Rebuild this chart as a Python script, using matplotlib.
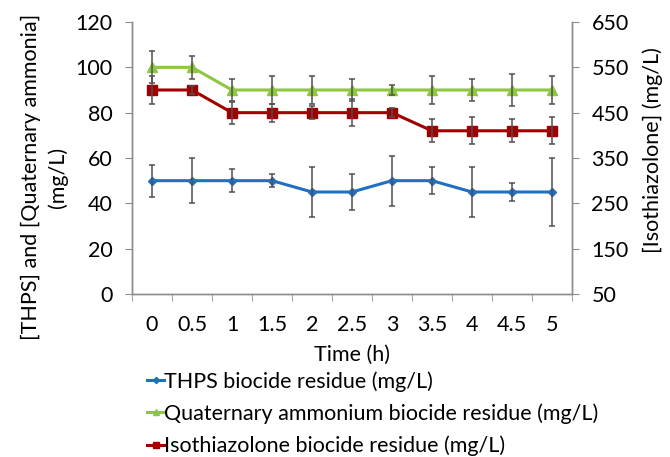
import numpy as np
import matplotlib
matplotlib.use('Agg')
import matplotlib.pyplot as plt

plt.rcParams['font.family'] = ['Lato', 'DejaVu Sans']

time_labels = ['0', '0.5', '1', '1.5', '2', '2.5', '3', '3.5', '4', '4.5', '5']

thps = [50, 50, 50, 50, 45, 45, 50, 50, 45, 45, 45]
thps_err = [7, 10, 5, 3, 11, 8, 11, 6, 11, 4, 15]

quat = [100, 100, 90, 90, 90, 90, 90, 90, 90, 90, 90]
quat_err = [7, 5, 5, 6, 6, 5, 2, 6, 5, 7, 6]

iso = [500, 500, 450, 450, 450, 450, 450, 410, 410, 410, 410]
iso_err = [30, 9, 24, 20, 15, 30, 10, 25, 30, 25, 30]

c_blue = '#1F6FC5'
c_green = '#8DC63F'
c_red = '#A00000'
c_err = '#505050'
c_axis = '#8C8C8C'
fs = 15.5

x = np.arange(len(time_labels))

fig = plt.figure(figsize=(6.7, 4.57), dpi=100)
ax1 = fig.add_axes([132 / 670, 1 - 294 / 457, 440 / 670, 272 / 457])
ax2 = ax1.twinx()

l1, = ax1.plot(x, thps, color=c_blue, lw=2.2, marker='D', ms=4.5, label='THPS biocide residue (mg/L)', zorder=3)
ax1.errorbar(x, thps, yerr=thps_err, fmt='none', ecolor=c_err, elinewidth=1.1, capsize=2.5, capthick=1.1, zorder=4)
l2, = ax1.plot(x, quat, color=c_green, lw=2.2, marker='^', ms=7, label='Quaternary ammonium biocide residue (mg/L)', zorder=3)
ax1.errorbar(x, quat, yerr=quat_err, fmt='none', ecolor=c_err, elinewidth=1.1, capsize=2.5, capthick=1.1, zorder=4)

l3, = ax2.plot(x, iso, color=c_red, lw=2.2, marker='s', ms=7, label='Isothiazolone biocide residue (mg/L)', zorder=3)
ax2.errorbar(x, iso, yerr=iso_err, fmt='none', ecolor=c_err, elinewidth=1.1, capsize=2.5, capthick=1.1, zorder=4)

ax1.set_xlim(-0.5, len(x) - 0.5)
ax1.set_ylim(0, 120)
ax1.set_yticks(range(0, 121, 20))
ax2.set_ylim(50, 650)
ax2.set_yticks(range(50, 651, 100))

ax1.set_xticks(x)
ax1.set_xticklabels(time_labels)
ax1.set_xticks(np.arange(-0.5, len(x), 1), minor=True)
ax1.tick_params(axis='x', which='major', length=0, pad=15)
ax1.tick_params(axis='x', which='minor', length=5, color=c_axis, direction='out')

for ax in (ax1, ax2):
    ax.spines['top'].set_visible(False)
    for s in ('left', 'right', 'bottom'):
        ax.spines[s].set_color(c_axis)
        ax.spines[s].set_linewidth(1.0)
    ax.tick_params(axis='y', length=5, color=c_axis, labelsize=fs, pad=9)
    ax.tick_params(axis='x', labelsize=fs)

ax1.set_xlabel('Time (h)', fontsize=fs, labelpad=7)
ax1.set_ylabel('[THPS] and [Quaternary ammonia]\n(mg/L)', fontsize=fs, linespacing=1.4)
ax1.yaxis.set_label_coords(-0.145, 0.43)
ax2.set_ylabel('[Isothiazolone] (mg/L)', fontsize=fs)
ax2.yaxis.set_label_coords(1.16, 0.53)

fig.legend(handles=[l1, l2, l3], loc='upper left', bbox_to_anchor=(147 / 670, 1 - 371 / 457),
           frameon=False, fontsize=fs, handlelength=0.8, handletextpad=0.0,
           labelspacing=0.55, borderaxespad=0, borderpad=0, markerscale=0.7)

fig.savefig('out.png', dpi=100)
